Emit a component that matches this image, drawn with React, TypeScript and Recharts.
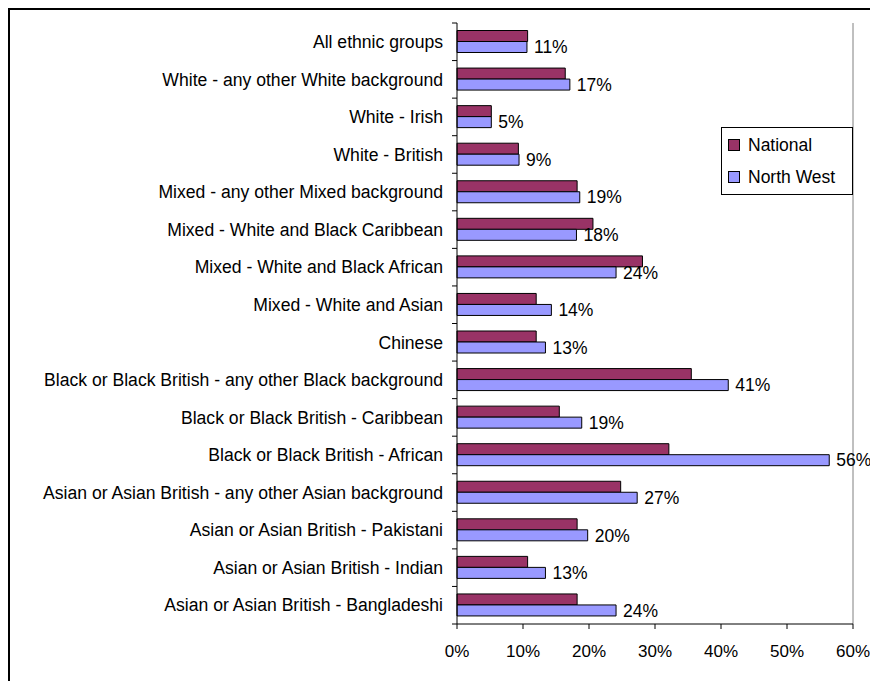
import React from "react";
import {
  BarChart,
  Bar,
  XAxis,
  YAxis,
  LabelList,
  ReferenceLine,
} from "recharts";

const categories = [
  "All ethnic groups",
  "White - any other White background",
  "White - Irish",
  "White - British",
  "Mixed - any other Mixed background",
  "Mixed - White and Black Caribbean",
  "Mixed - White and Black African",
  "Mixed - White and Asian",
  "Chinese",
  "Black or Black British - any other Black background",
  "Black or Black British - Caribbean",
  "Black or Black British - African",
  "Asian or Asian British - any other Asian background",
  "Asian or Asian British - Pakistani",
  "Asian or Asian British - Indian",
  "Asian or Asian British - Bangladeshi",
];

const national = [
  10.7, 16.4, 5.2, 9.3, 18.2, 20.6, 28.1, 12.0, 12.0, 35.5, 15.5, 32.1, 24.8,
  18.2, 10.7, 18.2,
];

const northWest = [
  10.6, 17.1, 5.2, 9.4, 18.6, 18.1, 24.1, 14.3, 13.4, 41.1, 18.9, 56.4, 27.3,
  19.8, 13.4, 24.1,
];

const xTicks = [0, 10, 20, 30, 40, 50, 60];

const seriesNames = ["National", "North West"];
const seriesColors = ["#993366", "#9999FF"];

const data = categories.map((name, i) => ({
  name,
  National: national[i],
  "North West": northWest[i],
}));

const FONT = "'Liberation Sans', Arial, sans-serif";
const CHART_W = 862;
const CHART_H = 673;
const MARGIN = { top: 15, right: 17, bottom: 12, left: 0 };
const X_AXIS_H = 45;
const Y_AXIS_W = 449;
const PLOT_H = CHART_H - MARGIN.top - MARGIN.bottom - X_AXIS_H;
const BAND = PLOT_H / categories.length;

const YTick = (props: any) => {
  const { x, y, payload, index } = props;
  const axisX = x + 14;
  return (
    <g>
      <text
        x={x}
        y={y}
        dy="0.355em"
        textAnchor="end"
        fontFamily={FONT}
        fontSize={17.6}
        fill="#000"
      >
        {payload.value}
      </text>
      <line
        x1={axisX - 5}
        x2={axisX}
        y1={y - BAND / 2}
        y2={y - BAND / 2}
        stroke="#000"
        strokeWidth={1}
      />
      {index === categories.length - 1 && (
        <line
          x1={axisX - 5}
          x2={axisX}
          y1={y + BAND / 2}
          y2={y + BAND / 2}
          stroke="#000"
          strokeWidth={1}
        />
      )}
    </g>
  );
};

const LegendBox = () => (
  <div
    style={{
      position: "absolute",
      left: 711,
      top: 117,
      border: "1px solid #000",
      background: "#fff",
      width: 132,
      padding: "1px 0 1px 6px",
      boxSizing: "border-box",
      fontFamily: FONT,
      fontSize: 17.5,
    }}
  >
    {seriesNames.map((n, i) => (
      <div
        key={n}
        style={{ display: "flex", alignItems: "center", height: 32 }}
      >
        <span
          style={{
            display: "inline-block",
            width: 10,
            height: 10,
            background: seriesColors[i],
            border: "1px solid #000",
            marginRight: 8,
          }}
        />
        <span>{n}</span>
      </div>
    ))}
  </div>
);

export default function App() {
  return (
    <div
      style={{
        position: "fixed",
        left: 8,
        top: 8,
        width: CHART_W,
        height: CHART_H,
        borderTop: "2px solid #000",
        borderLeft: "2px solid #000",
        boxSizing: "border-box",
        background: "#fff",
        overflow: "hidden",
      }}
    >
      <div style={{ position: "absolute", left: -2, top: -2 }}>
        <BarChart
          width={CHART_W}
          height={CHART_H}
          data={data}
          layout="vertical"
          margin={MARGIN}
          barCategoryGap="20%"
          barGap={0}
        >
          <XAxis
            type="number"
            domain={[0, 60]}
            ticks={xTicks}
            interval={0}
            tickFormatter={(v: number) => `${v}%`}
            height={X_AXIS_H}
            axisLine={{ stroke: "#000" }}
            tickLine={{ stroke: "#000" }}
            tickSize={5}
            tickMargin={16}
            tick={{ fontFamily: FONT, fontSize: 17, fill: "#000" }}
          />
          <XAxis
            xAxisId="top"
            orientation="top"
            type="number"
            domain={[0, 60]}
            height={0}
            tick={false}
            tickLine={false}
            axisLine={{ stroke: "#808080" }}
          />
          <YAxis
            type="category"
            dataKey="name"
            width={Y_AXIS_W}
            interval={0}
            tickSize={0}
            tickMargin={14}
            tickLine={false}
            axisLine={{ stroke: "#000" }}
            tick={<YTick />}
          />
          <ReferenceLine x={60} stroke="#808080" strokeWidth={1} />
          <Bar
            dataKey="National"
            fill={seriesColors[0]}
            stroke="#000"
            strokeWidth={1}
            isAnimationActive={false}
          />
          <Bar
            dataKey="North West"
            fill={seriesColors[1]}
            stroke="#000"
            strokeWidth={1}
            isAnimationActive={false}
          >
            <LabelList
              dataKey="North West"
              position="right"
              offset={7}
              formatter={(v: any) => `${Math.round(Number(v))}%`}
              style={{ fontFamily: FONT, fontSize: 17.5, fill: "#000" }}
            />
          </Bar>
        </BarChart>
      </div>
      <LegendBox />
    </div>
  );
}
